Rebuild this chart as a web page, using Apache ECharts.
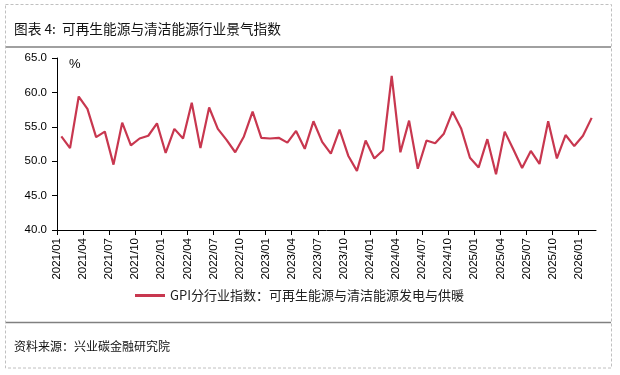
<!DOCTYPE html>
<html>
<head>
<meta charset="utf-8">
<script src="https://cdn.jsdelivr.net/npm/echarts@6/dist/echarts.min.js"></script>
<style>
html,body{margin:0;padding:0;background:#fff;}
#c{width:620px;height:375px;}
</style>
</head>
<body>
<div id="c"></div>
<script>
var months = ['2021/01','2021/02','2021/03','2021/04','2021/05','2021/06','2021/07','2021/08','2021/09','2021/10','2021/11','2021/12',
'2022/01','2022/02','2022/03','2022/04','2022/05','2022/06','2022/07','2022/08','2022/09','2022/10','2022/11','2022/12',
'2023/01','2023/02','2023/03','2023/04','2023/05','2023/06','2023/07','2023/08','2023/09','2023/10','2023/11','2023/12',
'2024/01','2024/02','2024/03','2024/04','2024/05','2024/06','2024/07','2024/08','2024/09','2024/10','2024/11','2024/12',
'2025/01','2025/02','2025/03','2025/04','2025/05','2025/06','2025/07','2025/08','2025/09','2025/10','2025/11','2025/12',
'2026/01','2026/02'];
// tick positions sit on month boundaries (63 boundaries for 62 months); the closing boundary has no label
var boundaryLabels = months.concat(['']);
var gpiValues = [53.6,51.9,59.4,57.6,53.5,54.3,49.5,55.6,52.3,53.3,53.7,55.5,
51.2,54.7,53.3,58.5,51.9,57.8,54.7,53.1,51.3,53.6,57.2,53.4,
53.3,53.4,52.7,54.4,51.8,55.8,52.8,51.1,54.6,50.8,48.6,53.0,
50.4,51.6,62.4,51.3,55.9,48.9,53.0,52.6,54.0,57.2,54.7,50.5,
49.1,53.2,48.1,54.3,51.7,49.0,51.5,49.6,55.8,50.4,53.8,52.2,
53.7,56.3];
var seriesName = 'GPI分行业指数：可再生能源与清洁能源发电与供暖';
var titleText = '图表 4:  可再生能源与清洁能源行业景气指数';
var sourceText = '资料来源：兴业碳金融研究院';

var chart = echarts.init(document.getElementById('c'), null, {renderer:'canvas'});
var latin = 'Liberation Sans, Arial, sans-serif';
var cjk = '"Noto Sans CJK SC", sans-serif';
chart.setOption({
  animation:false,
  backgroundColor:'#fff',
  grid:{left:57, right:24, top:58, bottom:145, containLabel:false},
  legend:{
    show:true, left:135, top:289, padding:0, icon:'rect', itemWidth:30, itemHeight:3,
    textStyle:{fontFamily:cjk, fontSize:13, color:'#222'},
    data:[seriesName]
  },
  graphic:[
    {type:'rect', shape:{x:5.5,y:4.5,width:606,height:363.5}, style:{fill:'none', stroke:'#c0c0c0', lineWidth:1, lineDash:[3,2]}, silent:true},
    {type:'line', shape:{x1:6,y1:47,x2:611,y2:47}, style:{stroke:'#808080', lineWidth:1.5}, silent:true},
    {type:'line', shape:{x1:6,y1:322.5,x2:611,y2:322.5}, style:{stroke:'#808080', lineWidth:1.5}, silent:true},
    {type:'text', left:14, top:22, style:{text:titleText, font:'13.7px "Noto Sans CJK SC", sans-serif', fill:'#111'}, silent:true},
    {type:'text', left:14, top:340, style:{text:sourceText, font:'12px "Noto Sans CJK SC", sans-serif', fill:'#111'}, silent:true},
    {type:'text', left:69, top:58, style:{text:'%', font:'13px Liberation Sans, Arial, sans-serif', fill:'#000'}, silent:true}
  ],
  xAxis:[
    {
      type:'category', data:months, boundaryGap:true, position:'bottom',
      axisLine:{show:true, lineStyle:{color:'#000', width:1}},
      axisTick:{show:false}, axisLabel:{show:false}, splitLine:{show:false}
    },
    {
      type:'category', data:boundaryLabels, boundaryGap:false, position:'bottom',
      axisLine:{show:false},
      axisTick:{show:true, interval:2, length:5, inside:false, lineStyle:{color:'#000', width:1}},
      axisLabel:{show:true, interval:2, rotate:90, margin:8,
        fontFamily:latin, fontSize:11.5, color:'#000'},
      splitLine:{show:false}
    }
  ],
  yAxis:{
    type:'value', min:40, max:65, interval:5,
    axisLine:{show:true, lineStyle:{color:'#000', width:1}},
    axisTick:{show:true, length:5, inside:false, lineStyle:{color:'#000'}},
    axisLabel:{formatter:function(v){return v.toFixed(1);}, margin:10, fontFamily:latin, fontSize:11.5, color:'#000'},
    splitLine:{show:false}
  },
  series:[{
    name:seriesName, type:'line', xAxisIndex:0, data:gpiValues,
    symbol:'none', smooth:false,
    lineStyle:{color:'#C8374F', width:2.2},
    itemStyle:{color:'#C8374F'}
  }]
});
</script>
</body>
</html>
